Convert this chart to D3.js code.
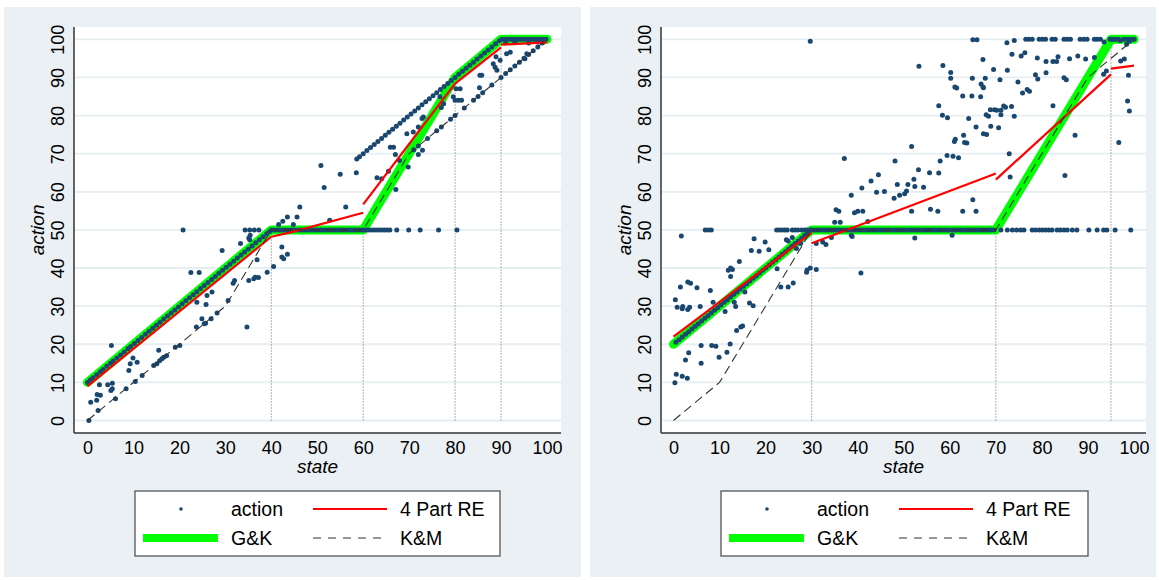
<!DOCTYPE html>
<html>
<head>
<meta charset="utf-8">
<script src="https://cdn.jsdelivr.net/npm/d3@7"></script>
<style>
  body { margin: 0; background: #fff; }
  svg { display: block; }
  text { font-family: "Liberation Sans", Arial, Helvetica, sans-serif; fill: #000; }
</style>
</head>
<body>
<svg id="chart" width="1159" height="580"></svg>
<script>
// tick labels
const stateTicks = [0, 10, 20, 30, 40, 50, 60, 70, 80, 90, 100]
const actionTicks = [0, 10, 20, 30, 40, 50, 60, 70, 80, 90, 100]
const legendLabels = ['action', '4 Part RE', 'G&K', 'K&M']

// ---------- left panel ----------
const leftGK = [[0,10],[40,50],[60,50],[80,90],[90,100],[100,100]]
const leftKM = [[0,0],[30,30],[40,50],[60,50],[70,70],[100,100]]
const leftRE = [
  [[0,9],[40,48.2]],
  [[40,48.2],[44,49.3],[60,54.5]],
  [[60,56.7],[80,88.4]],
  [[80,88.4],[90,97.9]],
  [[90,98.6],[100,99.2]]
]
const leftCuts = [[40,50],[60,50],[80,90],[90,100]]

// points lying along the rising rule, 0-40
const leftActionLow = [[0,10],[0.6,10.6],[1.2,11.2],[2,12],[2.8,12.8],[3.4,13.4],[4.2,14.2],[5,15],[5.6,15.6],[6.4,16.4],
  [7.2,17.2],[8,18],[8.8,18.8],[9.4,19.4],[10.2,20.2],[11,21],[11.8,21.8],[12.6,22.6],[13.4,23.4],[14.2,24.2],
  [15,25],[15.8,25.8],[16.6,26.6],[17.4,27.4],[18.2,28.2],[19,29],[19.8,29.8],[20.6,30.6],[21.4,31.4],[22.2,32.2],
  [23,33],[23.8,33.8],[24.6,34.6],[25.4,35.4],[26.2,36.2],[27,37],[27.8,37.8],[28.6,38.6],[29.4,39.4],[30.2,40.2],
  [31,41],[31.8,41.8],[32.6,42.6],[33.4,43.4],[34.2,44.2],[35,45],[35.8,45.8],[36.6,46.6],[37.4,47.4],[38.2,48.2],
  [39,49],[39.6,49.6]]
// points sitting on 50
const leftAction50 = [[20.8,50],[34.3,50],[35.3,50],[36.3,50],[37.3,50],
  [40,50],[40.6,50],[41.2,50],[41.8,50],[42.4,50],[43,50],[43.6,50],[44.2,50],[44.8,50],[45.4,50],[46,50],[46.6,50],
  [47.2,50],[47.8,50],[48.4,50],[49,50],[49.6,50],[50.2,50],[50.8,50],[51.4,50],[52,50],[52.6,50],[53.2,50],[53.8,50],
  [54.4,50],[55,50],[55.6,50],[56.2,50],[56.8,50],[57.4,50],[58,50],[58.6,50],[59.2,50],[59.8,50],[60.4,50],[61,50],
  [61.6,50],[62.2,50],[62.8,50],[63.4,50],[64,50],[64.6,50],[65.2,50],[65.8,50],[67.3,50],[69.9,50],[72.4,50],
  [76.4,50],[80.4,50]]
// upper band, 58-90
const leftActionHigh = [[58.6,68.6],[59.2,69.2],[60,70],[60.8,70.8],[61.6,71.6],[62.4,72.4],[63.2,73.2],[64,74],
  [64.8,74.8],[65.6,75.6],[66.4,76.4],[67.2,77.2],[68,78],[68.8,78.8],[69.6,79.6],[70.4,80.4],[71.2,81.2],[72,82],
  [72.8,82.8],[73.6,83.6],[74.4,84.4],[75.2,85.2],[76,86],[76.8,86.8],[77.6,87.6],[78.4,88.4],[79.2,89.2],[80,90],
  [80.8,90.8],[81.6,91.6],[82.4,92.4],[83.2,93.2],[84,94],[84.8,94.8],[85.6,95.6],[86.4,96.4],[87.2,97.2],[88,98],
  [88.8,98.8],[89.6,99.6]]
const leftAction100 = [[90.2,100],[90.8,100],[91.4,100],[92,100],[92.6,100],[93.2,100],[93.8,100],[94.4,100],
  [95,100],[95.6,100],[96.2,100],[96.8,100],[97.4,100],[98,100],[98.6,100],[99.2,100],[99.8,100],
  [91,99],[93,99.2],[96,99],[98,99.3]]
// lower band near the K&M rule
const leftActionKM = [[71,71],[72,72],[74,74],[76,76],[77,77],[79,79],[80,80],[82,82],[84,84],[85,85],[86,86],
  [88,88],[90,90],[91,91],[92,92],[93,93],[94,94],[95,95],[96,96],[97,97],[98,98],[99,99]]
const leftActionScatter = [[0.3,0],[0.7,4.8],[2,5.3],[2.3,2.6],[2.6,9.4],[2.1,6.8],[2.8,6.6],[4.4,9.4],[5.4,9.8],
  [5.1,7.9],[5.4,8.3],[5.2,19.7],[6.1,5.7],[8.4,8.3],[9,13.1],[9.3,14.9],[9.9,16.4],[10.8,15.3],[10.4,10.2],
  [11.9,11.8],[14.4,14.4],[15.1,14.9],[15.5,18.4],[15.7,15.7],[16.2,16.2],[16.6,16.6],[17.2,17],[19.1,19.2],
  [20.1,19.7],[22.5,38.8],[24.3,38.8],[23.7,24.5],[23.8,31],[25.8,30.4],[24.9,26.7],[25.4,25.4],[25.7,25.5],
  [26.9,26.7],[28.2,28.2],[26,32.8],[27.1,33.7],[29.3,44.6],[30.6,31.5],[31.7,36],[32,36.7],[33.3,46.4],[34.7,24.5],
  [35.1,36.7],[36.2,37.2],[36.5,37.6],[37.2,37.5],[36.9,42.2],[35.1,47.9],[35.4,48.6],[35.3,47.4],[39.1,38.9],
  [40.5,40.4],[42.3,42.9],[42.7,42.4],[43.5,43.6],[42.3,45.5],[41.6,51.4],[42.5,52.3],[43.5,53.4],[44.8,51.4],
  [46.2,56],[45.6,53.4],[51.5,61.1],[50.8,66.9],[55,64.6],[58.5,65],[56.2,56],[52.7,52.5],[63,63.7],[64,63.4],
  [65.5,65.4],[67.1,60.6],[65.9,71.7],[66.6,71.7],[67,69.8],[67.9,68.2],[69.8,66.5],[69.5,75.2],[70.9,75.7],
  [72,77],[72.8,79.2],[73.1,79.6],[72,69.8],[72.9,70.9],[77,82.1],[77.5,83.1],[76.7,84.9],[79.6,84.9],[80,84],
  [80.7,84],[81.4,84],[80.2,87],[81.1,87],[85.3,87.3],[85.4,90.6],[85.8,90.6],[88.3,93.6],[88.7,92.7],[89.1,91.9],
  [88.9,95.4],[89.8,94.5],[91.2,96.2],[92,96.6],[95.6,96.2],[95.2,94.9]]

// ---------- right panel ----------
const rightGK = [[0,20],[30,50],[70,50],[95,100],[100,100]]
const rightKM = [[0,0],[10,10],[30,50],[70,50],[90,90],[100,100]]
const rightRE = [
  [[0,22],[30,49.2]],
  [[30,46.5],[70,64.8]],
  [[70,63.2],[95,90.8]],
  [[95,92.3],[100,93.1]]
]
const rightCuts = [[30,50],[70,50],[95,100]]

const rightActionLow = [[0.5,20.5],[1.2,21.2],[1.9,21.9],[2.6,22.6],[3.3,23.3],[4,24],[4.7,24.7],[5.4,25.4],
  [6.1,26.1],[6.8,26.8],[7.5,27.5],[8.2,28.2],[8.9,28.9],[9.6,29.6],[10.3,30.3],[11,31],[11.7,31.7],[12.4,32.4],
  [13.1,33.1],[13.8,33.8],[14.5,34.5],[15.2,35.2],[15.9,35.9],[16.6,36.6],[17.3,37.3],[18,38],[18.7,38.7],
  [19.4,39.4],[20.1,40.1],[20.8,40.8],[21.5,41.5],[22.2,42.2],[22.9,42.9],[23.6,43.6],[24.3,44.3],[25,45],
  [25.7,45.7],[26.4,46.4],[27.1,47.1],[27.8,47.8],[28.5,48.5],[29.2,49.2]]
const rightAction50 = [[1.7,48.4],[6.9,50],[7.6,50],[8.2,50],[22.4,50],[23,50],[23.6,50],[24.2,50],[24.7,50],
  [25.8,50],[26.4,50],[27,50],[27.8,50],[28.5,50],[29,50],[29.7,50],
  [30,50],[30.6,50],[31.2,50],[31.8,50],[32.4,50],[33,50],[33.6,50],[34.2,50],[34.8,50],[35.4,50],[36,50],[36.6,50],
  [37.2,50],[37.8,50],[38.4,50],[39,50],[39.6,50],[40.2,50],[40.8,50],[41.4,50],[42,50],[42.6,50],[43.2,50],
  [43.8,50],[44.4,50],[45,50],[45.6,50],[46.2,50],[46.8,50],[47.4,50],[48,50],[48.6,50],[49.2,50],[49.8,50],
  [50.4,50],[51,50],[51.6,50],[52.2,50],[52.8,50],[53.4,50],[54,50],[54.6,50],[55.2,50],[55.8,50],[56.4,50],
  [57,50],[57.6,50],[58.2,50],[58.8,50],[59.4,50],[60,50],[60.6,50],[61.2,50],[61.8,50],[62.4,50],[63,50],
  [63.6,50],[64.2,50],[64.8,50],[65.4,50],[66,50],[66.6,50],[67.2,50],[67.8,50],[68.4,50],[69,50],[69.6,50],
  [71.1,50],[72.5,50],[73.6,50],[74.5,50],[75.4,50],[76.1,50],[77.9,50],[78.6,50],[79.4,50],[80.1,50],[80.8,50],
  [81.5,50],[82.2,50],[83.3,50],[84,50],[84.8,50],[85.5,50],[86.6,50],[87.6,50],[90.2,50],[92,50],[93.4,50],
  [94.1,50],[95.9,50],[99.3,50]]
const rightAction100 = [[29.7,99.5],[65,99.9],[65.9,99.9],[72.4,99.1],[74,99.7],[76.5,100],[77.2,100],[77.9,100],
  [79.4,100],[80.1,100],[80.8,100],[82.2,100],[82.9,100],[84.8,100],[85.5,100],[86.2,100],[88.3,100],[89.1,100],
  [89.8,100],[91.4,100],[92,100],[92.7,100],[93.5,99.3],[94.8,100],[95.2,100],[95.6,100],[96,100],[96.6,100],
  [97,99.6],[97.7,100],[98.2,100],[98.8,100],[99,99.5],[99.5,100],[100,100]]
const rightActionScatter = [[0.3,9.9],[0.6,12.1],[1.9,11.6],[3,11.1],[2.6,15.9],[3.3,17.8],[0.4,31.7],[0.8,29.7],
  [1.9,29.3],[2,29.9],[1.5,35],[3.1,29.1],[3.5,29.7],[3.1,36.3],[3.7,36],[5.1,34.8],[5.8,29.9],[6,19.7],[6,15],
  [8,34.1],[8.3,19.7],[9.2,19.5],[8.6,31],[9.9,16.6],[11.2,28.6],[11.6,17.9],[11.9,39.4],[12.4,40],[12.8,39.6],
  [12.3,20.1],[12.4,37.8],[13.2,31],[13.5,29.9],[13.7,23.6],[14.6,24.5],[15,24.8],[14.3,41.7],[15.5,33.7],
  [16.5,30.8],[17.3,30.1],[16.9,44.6],[17.5,47.7],[18.6,44.4],[19.9,46.8],[20.7,44.8],[22.5,39.8],[23.3,35],
  [24.9,35],[26,36.1],[24.5,47.4],[24.9,47.1],[25.8,48],[26.7,45.1],[27.6,46.4],[28.9,38.9],[29,39.5],[29.7,40],
  [31,39.6],[31,46.4],[32.4,46.8],[33.1,46.2],[34.3,48],[35,52],[36.2,52],[35.3,55.3],[35.9,54.9],[37.1,68.7],
  [38.6,59.1],[38.6,48.6],[38.8,48.3],[39.3,54.5],[40,54.9],[41.1,54.9],[40.7,38.7],[40.9,61],[42.2,52.2],
  [42.9,62.8],[44.1,59.9],[44.5,64.5],[45.8,60.1],[47.9,58.3],[48.1,68.1],[48.6,61.9],[49.1,59.1],[50.2,59.5],
  [50.6,60.2],[50.9,61.9],[51.7,71.9],[51.7,54.9],[52.2,63.3],[52.4,61.4],[52.4,47.9],[53.2,65.8],[53.3,92.9],
  [54.3,61.2],[55.6,65],[55.8,55.4],[57.4,54.9],[57.6,64.9],[57.6,82.6],[57.9,68.1],[58.4,80.1],[58.5,93.1],
  [59.5,79.4],[59.4,69.5],[60.2,91.3],[60.2,89.8],[60.5,48.6],[60.7,69.3],[61,73.2],[61.1,87.5],[61.2,73.8],
  [61.5,87.2],[61.9,68.9],[62.8,85.1],[62.8,54.9],[63,74.8],[63.2,72.9],[63.7,72.8],[64.1,79.2],[64.8,85.1],
  [64.9,89.8],[65,57.9],[65.7,54.9],[65.7,77],[66.7,84.9],[66.8,88.3],[67.2,87.5],[67.3,87.3],[67.2,94.7],
  [67.3,75.2],[67.7,89.8],[67.9,80.2],[68,75],[68.4,79.8],[68.8,81.5],[68.9,77.2],[69.5,92.1],[69.7,81.5],
  [70.6,76.8],[70.9,89.4],[70.2,81.4],[71.1,81.4],[71.1,80.2],[71.7,82.5],[72.1,82.2],[72.5,91.9],[72.9,70],
  [73.1,63.9],[73.4,82.4],[73.5,96.1],[74,79.8],[74.8,88.8],[75.5,95.6],[75.8,85.9],[76.3,96.5],[76.8,86.8],
  [77.3,86.4],[78.6,90.7],[79,95.1],[79.1,89.6],[80.9,91.2],[80.9,94.2],[82.4,94.2],[82.4,82.6],[83.2,94.2],
  [83.5,95.4],[84.8,89.9],[85,64.3],[85.3,89.4],[86,94.9],[87.2,74.8],[87.8,95.6],[89.5,94.8],[91.4,95.2],
  [93.4,90.8],[94,91.7],[96.7,72.9],[97.1,94.3],[97.9,94.8],[98.6,83.8],[99,81.2],[98.8,90.6],[98.4,98.7]]

//colors
const bgColor = '#eaf0f3'
const gridColor = '#e6eef1'
const dotColor = '#1a476f'
const gkColor = '#00ff00'
const reColor = '#ff0000'
const kmColor = '#333333'

const svg = d3.select('#chart')

const panels = [
  {
    box: [4, 7, 577, 570], plot: [74, 27, 487, 406], xr: [87.5, 547], legendX: 135, legendW: 365,
    gk: leftGK, km: leftKM, re: leftRE, cuts: leftCuts,
    action: [].concat(leftActionLow, leftAction50, leftActionHigh, leftAction100, leftActionKM, leftActionScatter)
  },
  {
    box: [590, 7, 566, 570], plot: [661, 27, 485, 406], xr: [673.5, 1134], legendX: 721, legendW: 367,
    gk: rightGK, km: rightKM, re: rightRE, cuts: rightCuts,
    action: [].concat(rightActionLow, rightAction50, rightAction100, rightActionScatter)
  }
]

const drawPanel = (p) => {
  const g = svg.append('g')
  const [px, py, pw, ph] = p.plot

  //panel background and plot region
  g.append('rect').attr('x', p.box[0]).attr('y', p.box[1]).attr('width', p.box[2]).attr('height', p.box[3])
    .attr('fill', bgColor)
  g.append('rect').attr('x', px).attr('y', py).attr('width', pw).attr('height', ph).attr('fill', '#fff')

  //scales
  const x = d3.scaleLinear().domain([0, 100]).range(p.xr)
  const y = d3.scaleLinear().domain([0, 100]).range([420.5, 39.3])

  //gridlines
  g.selectAll('line.grid').data(actionTicks).enter().append('line')
    .attr('class', 'grid')
    .attr('x1', px).attr('x2', px + pw)
    .attr('y1', d => y(d)).attr('y2', d => y(d))
    .attr('stroke', gridColor).attr('stroke-width', 1.8)

  //axes (labels only, lines drawn by hand)
  const yAxisG = g.append('g').attr('transform', `translate(${px},0)`)
    .call(d3.axisLeft(y).tickValues(actionTicks).tickSize(0).tickFormat(d3.format('d')))
  yAxisG.select('.domain').remove()
  yAxisG.selectAll('text')
    .attr('transform', 'rotate(-90)')
    .attr('x', 0).attr('y', -10).attr('dy', 0)
    .attr('text-anchor', 'middle')
    .attr('font-size', '18px')
    .attr('font-family', '"Liberation Sans", Arial, sans-serif')
    .attr('fill', '#000')

  const xAxisG = g.append('g').attr('transform', `translate(0,${py + ph})`)
    .call(d3.axisBottom(x).tickValues(stateTicks).tickSize(0).tickFormat(d3.format('d')))
  xAxisG.select('.domain').remove()
  xAxisG.selectAll('text')
    .attr('y', 20.5).attr('dy', 0)
    .attr('font-size', '18px')
    .attr('font-family', '"Liberation Sans", Arial, sans-serif')
    .attr('fill', '#000')

  g.append('line').attr('x1', px).attr('x2', px).attr('y1', py).attr('y2', py + ph)
    .attr('stroke', '#333').attr('stroke-width', 1.5)
  g.append('line').attr('x1', px).attr('x2', px + pw).attr('y1', py + ph).attr('y2', py + ph)
    .attr('stroke', '#333').attr('stroke-width', 1.5)

  //axis titles
  g.append('text')
    .attr('x', px + pw / 2).attr('y', 473)
    .attr('text-anchor', 'middle').attr('font-size', '19px').attr('font-style', 'italic')
    .text('state')
  g.append('text')
    .attr('transform', `translate(${px - 30},${(y(0) + y(100)) / 2}) rotate(-90)`)
    .attr('text-anchor', 'middle').attr('font-size', '19px').attr('font-style', 'italic')
    .text('action')

  //cut lines
  g.selectAll('line.cut').data(p.cuts).enter().append('line')
    .attr('class', 'cut')
    .attr('x1', d => x(d[0])).attr('x2', d => x(d[0]))
    .attr('y1', y(0)).attr('y2', d => y(d[1]))
    .attr('stroke', '#666').attr('stroke-width', 1).attr('stroke-dasharray', '1,2')

  const line = d3.line().x(d => x(d[0])).y(d => y(d[1]))

  //G&K
  g.append('path').datum(p.gk)
    .attr('d', line).attr('fill', 'none')
    .attr('stroke', gkColor).attr('stroke-width', 9)
    .attr('stroke-linejoin', 'round').attr('stroke-linecap', 'round')

  //action dots
  g.selectAll('circle.dot').data(p.action).enter().append('circle')
    .attr('class', 'dot')
    .attr('cx', d => x(d[0])).attr('cy', d => y(d[1]))
    .attr('r', 2.5).attr('fill', dotColor)

  //4 Part RE
  g.selectAll('path.re').data(p.re).enter().append('path')
    .attr('class', 're')
    .attr('d', line).attr('fill', 'none')
    .attr('stroke', reColor).attr('stroke-width', 2.2)

  //K&M
  g.append('path').datum(p.km)
    .attr('d', line).attr('fill', 'none')
    .attr('stroke', kmColor).attr('stroke-width', 1.1).attr('stroke-dasharray', '9,5')

  //legend
  const lg = g.append('g').attr('transform', `translate(${p.legendX},491)`)
  lg.append('rect').attr('x', 0).attr('y', 0).attr('width', p.legendW).attr('height', 65)
    .attr('fill', '#fff').attr('stroke', '#555').attr('stroke-width', 1.3)
  const r1 = 18, r2 = 47
  lg.append('circle').attr('cx', 46).attr('cy', r1).attr('r', 1.8).attr('fill', dotColor)
  lg.append('line').attr('x1', 178).attr('x2', 252).attr('y1', r1).attr('y2', r1)
    .attr('stroke', reColor).attr('stroke-width', 2)
  lg.append('line').attr('x1', 8).attr('x2', 83).attr('y1', r2).attr('y2', r2)
    .attr('stroke', gkColor).attr('stroke-width', 8)
  lg.append('line').attr('x1', 178).attr('x2', 252).attr('y1', r2).attr('y2', r2)
    .attr('stroke', kmColor).attr('stroke-width', 1.1).attr('stroke-dasharray', '8,7')
  const legPos = [[96, r1], [265, r1], [96, r2], [265, r2]]
  lg.selectAll('text.leg').data(legendLabels).enter().append('text')
    .attr('class', 'leg')
    .attr('x', (d, i) => legPos[i][0]).attr('y', (d, i) => legPos[i][1] + 7)
    .attr('font-size', '19.5px')
    .text(d => d)
}

panels.forEach(drawPanel)
</script>
</body>
</html>
